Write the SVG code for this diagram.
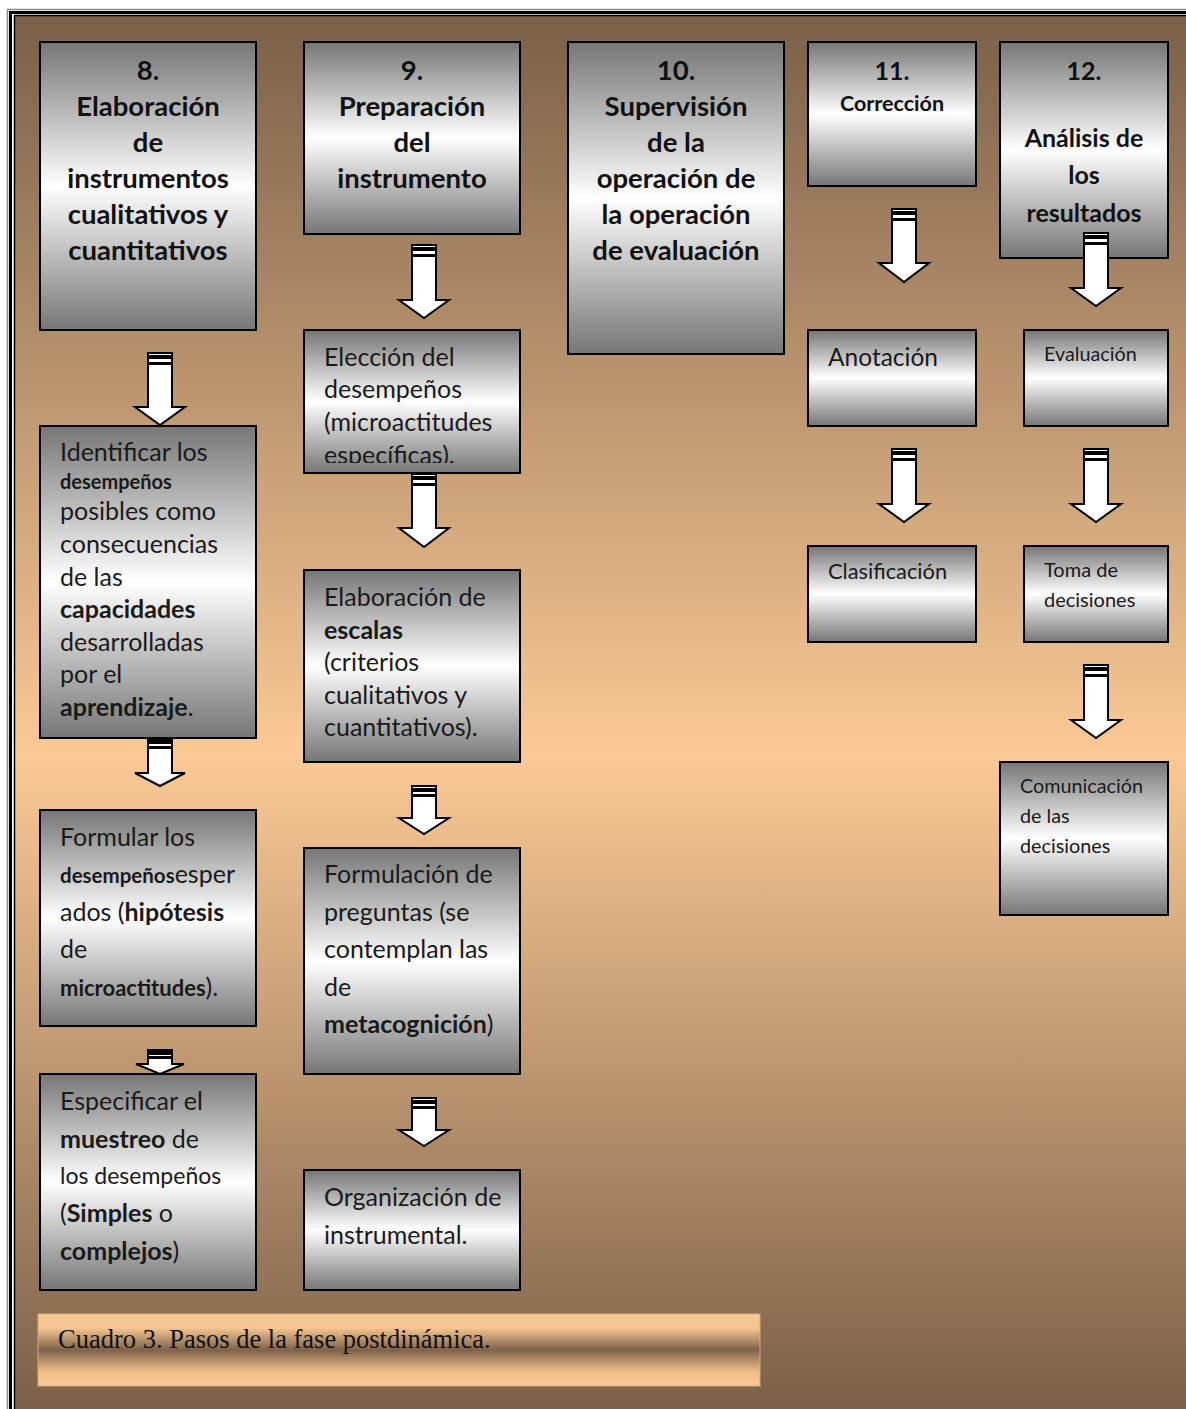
<svg xmlns="http://www.w3.org/2000/svg" width="1186" height="1409" viewBox="0 0 1186 1409">
  <defs>
    <!-- page background: brown at the edges, peach in the middle -->
    <linearGradient id="bg" x1="0" y1="0" x2="0" y2="1">
      <stop offset="0" stop-color="#7a6049"/>
      <stop offset="0.53" stop-color="#fbc995"/>
      <stop offset="1" stop-color="#7a6049"/>
    </linearGradient>
    <!-- metallic gray fill of the step boxes -->
    <linearGradient id="box" x1="0" y1="0" x2="0" y2="1">
      <stop offset="0" stop-color="#767676"/>
      <stop offset="0.5" stop-color="#ffffff"/>
      <stop offset="1" stop-color="#767676"/>
    </linearGradient>
    <!-- caption band -->
    <linearGradient id="cap" x1="0" y1="0" x2="0" y2="1">
      <stop offset="0" stop-color="#f9c995"/>
      <stop offset="0.2" stop-color="#f3c390"/>
      <stop offset="0.5" stop-color="#7d634b"/>
      <stop offset="0.8" stop-color="#efbd8a"/>
      <stop offset="1" stop-color="#f9c995"/>
    </linearGradient>
    <!-- the last line of the "Elección" box is cut off by its frame -->
    <clipPath id="clipEleccion">
      <rect x="305" y="331" width="214" height="132"/>
    </clipPath>
  </defs>
  <style>
    .bx { fill: url(#box); stroke: #000; stroke-width: 2; }
    .ttl { font-family: Lato, "Open Sans", "Liberation Sans", sans-serif; font-weight: bold; font-size: 27.5px; fill: #111; text-anchor: middle; }
    .txt { font-family: Lato, "Open Sans", "Liberation Sans", sans-serif; font-size: 25px; fill: #1a1a1a; }
    .b { font-weight: bold; }
    .arr { fill: #fff; stroke: #000; stroke-width: 2; stroke-linejoin: miter; }
  </style>

  <!-- page and frame -->
  <rect x="0" y="0" width="1186" height="1409" fill="#fff"/>
  <rect x="15" y="16" width="1171" height="1393" fill="url(#bg)"/>
  <path d="M7.5 1409 V9.5 H1186" fill="none" stroke="#8a8a8a" stroke-width="1.5"/>
  <path d="M10.5 1409 V12.5 H1186" fill="none" stroke="#000" stroke-width="3"/>
  <path d="M14.5 1409 V15.5 H1186" fill="none" stroke="#000" stroke-width="1.5"/>

  <!-- column 1 -->
  <g id="n8">
    <rect class="bx" x="40" y="42" width="216" height="288"/>
    <text class="ttl"><tspan x="148" y="80">8.</tspan><tspan x="148" y="116">Elaboración</tspan><tspan x="148" y="152">de</tspan><tspan x="148" y="188">instrumentos</tspan><tspan x="148" y="224">cualitativos y</tspan><tspan x="148" y="260">cuantitativos</tspan></text>
  </g>
  <g id="identificar">
    <rect class="bx" x="40" y="426" width="216" height="312"/>
    <text class="txt">
      <tspan x="60" y="461">Identificar los</tspan>
      <tspan x="60" y="489" class="b" font-size="20">desempeños</tspan>
      <tspan x="60" y="520">posibles como</tspan>
      <tspan x="60" y="553">consecuencias</tspan>
      <tspan x="60" y="586">de las</tspan>
      <tspan x="60" y="618" class="b">capacidades</tspan>
      <tspan x="60" y="651">desarrolladas</tspan>
      <tspan x="60" y="683">por el</tspan>
      <tspan x="60" y="716" class="b">aprendizaje</tspan><tspan>.</tspan>
    </text>
  </g>
  <g id="formular">
    <rect class="bx" x="40" y="810" width="216" height="216"/>
    <text class="txt">
      <tspan x="60" y="846">Formular los</tspan>
      <tspan x="60" y="883" class="b" font-size="20.5">desempeños</tspan><tspan>esper</tspan>
      <tspan x="60" y="921">ados (</tspan><tspan class="b">hipótesis</tspan>
      <tspan x="60" y="958">de</tspan>
      <tspan x="60" y="996" class="b" font-size="22">microactitudes</tspan><tspan>).</tspan>
    </text>
  </g>
  <g id="especificar">
    <rect class="bx" x="40" y="1074" width="216" height="216"/>
    <text class="txt">
      <tspan x="60" y="1110">Especificar el</tspan>
      <tspan x="60" y="1148" class="b">muestreo</tspan><tspan> de</tspan>
      <tspan x="60" y="1184" font-size="23">los desempeños</tspan>
      <tspan x="60" y="1222">(</tspan><tspan class="b">Simples</tspan><tspan> o</tspan>
      <tspan x="60" y="1260" class="b">complejos</tspan><tspan>)</tspan>
    </text>
  </g>

  <!-- column 2 -->
  <g id="n9">
    <rect class="bx" x="304" y="42" width="216" height="192"/>
    <text class="ttl"><tspan x="412" y="80">9.</tspan><tspan x="412" y="116">Preparación</tspan><tspan x="412" y="152">del</tspan><tspan x="412" y="188">instrumento</tspan></text>
  </g>
  <g id="eleccion">
    <rect class="bx" x="304" y="330" width="216" height="143"/>
    <text class="txt" clip-path="url(#clipEleccion)">
      <tspan x="324" y="366">Elección del</tspan>
      <tspan x="324" y="398">desempeños</tspan>
      <tspan x="324" y="431">(microactitudes</tspan>
      <tspan x="324" y="464">específicas).</tspan>
    </text>
  </g>
  <g id="escalas">
    <rect class="bx" x="304" y="570" width="216" height="192"/>
    <text class="txt">
      <tspan x="324" y="606">Elaboración de</tspan>
      <tspan x="324" y="639" class="b">escalas</tspan>
      <tspan x="324" y="671">(criterios</tspan>
      <tspan x="324" y="704">cualitativos y</tspan>
      <tspan x="324" y="736">cuantitativos).</tspan>
    </text>
  </g>
  <g id="formulacion">
    <rect class="bx" x="304" y="848" width="216" height="226"/>
    <text class="txt">
      <tspan x="324" y="883">Formulación de</tspan>
      <tspan x="324" y="921">preguntas (se</tspan>
      <tspan x="324" y="958">contemplan las</tspan>
      <tspan x="324" y="996">de</tspan>
      <tspan x="324" y="1033" class="b">metacognición</tspan><tspan>)</tspan>
    </text>
  </g>
  <g id="organizacion">
    <rect class="bx" x="304" y="1170" width="216" height="120"/>
    <text class="txt">
      <tspan x="324" y="1206">Organización de</tspan>
      <tspan x="324" y="1244">instrumental.</tspan>
    </text>
  </g>

  <!-- column 3 -->
  <g id="n10">
    <rect class="bx" x="568" y="42" width="216" height="312"/>
    <text class="ttl"><tspan x="676" y="80">10.</tspan><tspan x="676" y="116">Supervisión</tspan><tspan x="676" y="152">de la</tspan><tspan x="676" y="188">operación de</tspan><tspan x="676" y="224">la operación</tspan><tspan x="676" y="260">de evaluación</tspan></text>
  </g>

  <!-- column 4 -->
  <g id="n11">
    <rect class="bx" x="808" y="42" width="168" height="144"/>
    <text class="ttl"><tspan x="892" y="80" font-size="25">11.</tspan><tspan x="892" y="111" font-size="21.5">Corrección</tspan></text>
  </g>
  <g id="anotacion">
    <rect class="bx" x="808" y="330" width="168" height="96"/>
    <text class="txt" x="828" y="366" style="font-size:24.5px">Anotación</text>
  </g>
  <g id="clasificacion">
    <rect class="bx" x="808" y="546" width="168" height="96"/>
    <text class="txt" x="828" y="579" style="font-size:21.8px">Clasificación</text>
  </g>

  <!-- column 5 -->
  <g id="n12">
    <rect class="bx" x="1000" y="42" width="168" height="216"/>
    <text class="ttl" style="font-size:25px"><tspan x="1084" y="80">12.</tspan><tspan x="1084" y="147">Análisis de</tspan><tspan x="1084" y="184">los</tspan><tspan x="1084" y="222">resultados</tspan></text>
  </g>
  <g id="evaluacion">
    <rect class="bx" x="1024" y="330" width="144" height="96"/>
    <text class="txt" x="1044" y="361" style="font-size:19.8px">Evaluación</text>
  </g>
  <g id="toma">
    <rect class="bx" x="1024" y="546" width="144" height="96"/>
    <text class="txt" style="font-size:20px"><tspan x="1044" y="577">Toma de</tspan><tspan x="1044" y="607">decisiones</tspan></text>
  </g>
  <g id="comunicacion">
    <rect class="bx" x="1000" y="762" width="168" height="153"/>
    <text class="txt" style="font-size:19.8px"><tspan x="1020" y="793">Comunicación</tspan><tspan x="1020" y="823">de las</tspan><tspan x="1020" y="853">decisiones</tspan></text>
  </g>

  <!-- striped down arrows between steps -->
  <g id="connectors">
    <g>
      <rect class="arr" x="148" y="353" width="24" height="3"/><rect class="arr" x="148" y="358" width="24" height="5"/>
      <path class="arr" d="M148 364 H172 V407 H185 L160 425 L135 407 H148 Z"/>
    </g>
    <g>
      <rect class="arr" x="148" y="739" width="24" height="2"/><rect class="arr" x="148" y="743" width="24" height="4"/>
      <path class="arr" d="M148 748 H172 V773 H185 L160 786 L135 773 H148 Z"/>
    </g>
    <g>
      <rect class="arr" x="148" y="1050" width="24" height="2"/><rect class="arr" x="148" y="1054" width="24" height="3"/>
      <path class="arr" d="M148 1058 H172 V1064 H184 L160 1074 L136 1064 H148 Z"/>
    </g>
    <g>
      <rect class="arr" x="412" y="245" width="24" height="3"/><rect class="arr" x="412" y="250" width="24" height="5"/>
      <path class="arr" d="M412 256 H436 V300 H449 L424 318 L399 300 H412 Z"/>
    </g>
    <g>
      <rect class="arr" x="412" y="474" width="24" height="3"/><rect class="arr" x="412" y="479" width="24" height="5"/>
      <path class="arr" d="M412 485 H436 V528 H449 L424 547 L399 528 H412 Z"/>
    </g>
    <g>
      <rect class="arr" x="412" y="786" width="24" height="3"/><rect class="arr" x="412" y="791" width="24" height="4"/>
      <path class="arr" d="M412 796 H436 V818 H449 L424 834 L399 818 H412 Z"/>
    </g>
    <g>
      <rect class="arr" x="412" y="1098" width="24" height="3"/><rect class="arr" x="412" y="1103" width="24" height="4"/>
      <path class="arr" d="M412 1108 H436 V1130 H449 L424 1146 L399 1130 H412 Z"/>
    </g>
    <g>
      <rect class="arr" x="892" y="209" width="24" height="3"/><rect class="arr" x="892" y="214" width="24" height="5"/>
      <path class="arr" d="M892 220 H916 V263 H929 L904 282 L879 263 H892 Z"/>
    </g>
    <g>
      <rect class="arr" x="892" y="449" width="24" height="3"/><rect class="arr" x="892" y="454" width="24" height="5"/>
      <path class="arr" d="M892 460 H916 V504 H929 L904 522 L879 504 H892 Z"/>
    </g>
    <g>
      <rect class="arr" x="1084" y="233" width="24" height="3"/><rect class="arr" x="1084" y="238" width="24" height="5"/>
      <path class="arr" d="M1084 244 H1108 V288 H1121 L1096 306 L1071 288 H1084 Z"/>
    </g>
    <g>
      <rect class="arr" x="1084" y="449" width="24" height="3"/><rect class="arr" x="1084" y="454" width="24" height="5"/>
      <path class="arr" d="M1084 460 H1108 V504 H1121 L1096 522 L1071 504 H1084 Z"/>
    </g>
    <g>
      <rect class="arr" x="1084" y="665" width="24" height="3"/><rect class="arr" x="1084" y="670" width="24" height="5"/>
      <path class="arr" d="M1084 676 H1108 V720 H1121 L1096 738 L1071 720 H1084 Z"/>
    </g>
  </g>

  <!-- caption -->
  <g id="caption">
    <rect x="38" y="1314" width="722" height="72" fill="url(#cap)" stroke="#d9a878" stroke-width="1"/>
    <text x="58" y="1348" font-family="'Liberation Serif', 'Times New Roman', serif" font-size="26.5" fill="#111">Cuadro 3. Pasos de la fase postdinámica.</text>
  </g>
</svg>
